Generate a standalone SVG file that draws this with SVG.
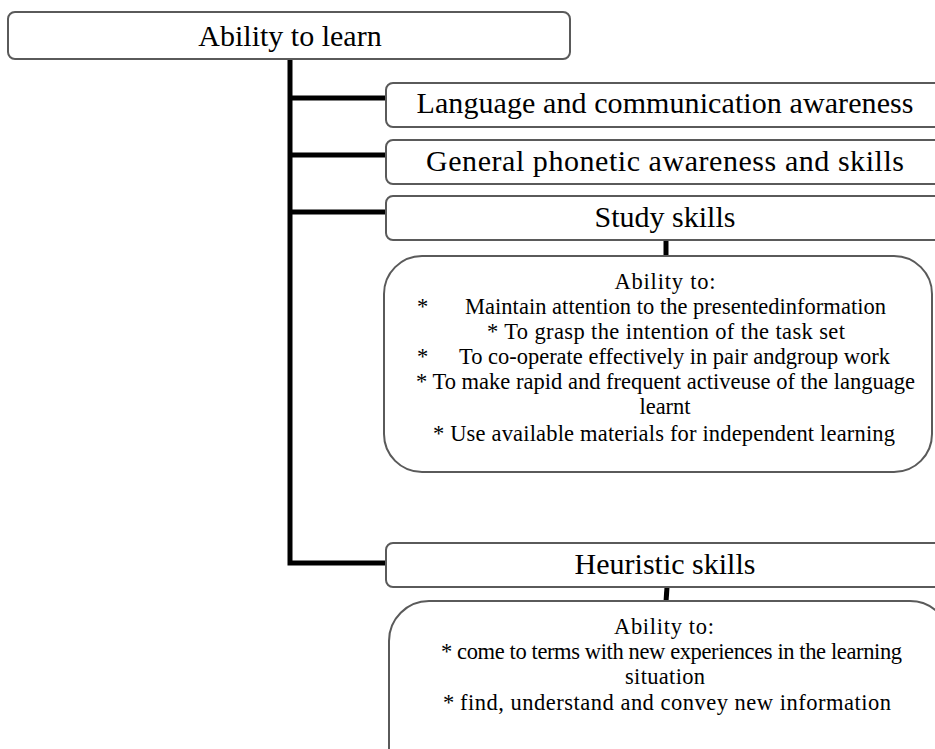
<svg xmlns="http://www.w3.org/2000/svg" width="935" height="749" viewBox="0 0 935 749">
<style>
.box{fill:#fff;stroke:#5a5a5a;stroke-width:2}
.conn{fill:none;stroke:#000;stroke-width:5}
text{fill:#000}
.h{font-size:30px;text-anchor:middle}
.b{font-size:22.5px}
.c{text-anchor:middle}
</style>
<rect width="935" height="749" fill="#fff"/>
<g id="connectors">
<path class="conn" d="M290 59 V563 H388"/>
<path class="conn" d="M290 98 H388 M290 155 H388 M290 212 H388"/>
<path class="conn" d="M666 240 V257"/>
<path class="conn" d="M667 587 L666 602"/>
</g>
<g font-family="Liberation Serif, Times New Roman, serif">
<g id="root">
<rect class="box" x="8" y="12" width="562" height="47" rx="7"/>
<text class="h" x="290" y="46">Ability to learn</text>
</g>
<g id="lang">
<rect class="box" x="386" y="83" width="560" height="44" rx="7"/>
<text class="h" x="665" y="113" textLength="497">Language and communication awareness</text>
</g>
<g id="phon">
<rect class="box" x="386" y="140" width="560" height="44" rx="7"/>
<text class="h" x="665" y="171" textLength="478">General phonetic awareness and skills</text>
</g>
<g id="study">
<rect class="box" x="386" y="196" width="560" height="44" rx="7"/>
<text class="h" x="665" y="227">Study skills</text>
</g>
<g id="study-detail">
<rect class="box" x="384" y="256" width="548" height="216" rx="38"/>
<text class="b c" x="665" y="289" textLength="101">Ability to:</text>
<text class="b" x="417" y="314">*</text>
<text class="b" x="465" y="314" textLength="421">Maintain attention to the presentedinformation</text>
<text class="b" x="487" y="339" textLength="358">* To grasp the intention of the task set</text>
<text class="b" x="417" y="364">*</text>
<text class="b" x="459" y="364" textLength="431">To co-operate effectively in pair andgroup work</text>
<text class="b" x="416" y="389" textLength="499">* To make rapid and frequent activeuse of the language</text>
<text class="b c" x="665" y="414">learnt</text>
<text class="b" x="433" y="441" textLength="462">* Use available materials for independent learning</text>
</g>
<g id="heur">
<rect class="box" x="386" y="543" width="560" height="44" rx="7"/>
<text class="h" x="665" y="574">Heuristic skills</text>
</g>
<g id="heur-detail">
<rect class="box" x="389" y="601" width="561" height="190" rx="40"/>
<text class="b c" x="664" y="634" textLength="100">Ability to:</text>
<text class="b" x="441" y="659" textLength="461">* come to terms with new experiences in the learning</text>
<text class="b c" x="665" y="684" textLength="80">situation</text>
<text class="b" x="443" y="710">*</text>
<text class="b" x="460" y="710" textLength="431">find, understand and convey new information</text>
</g>
</g>
</svg>
